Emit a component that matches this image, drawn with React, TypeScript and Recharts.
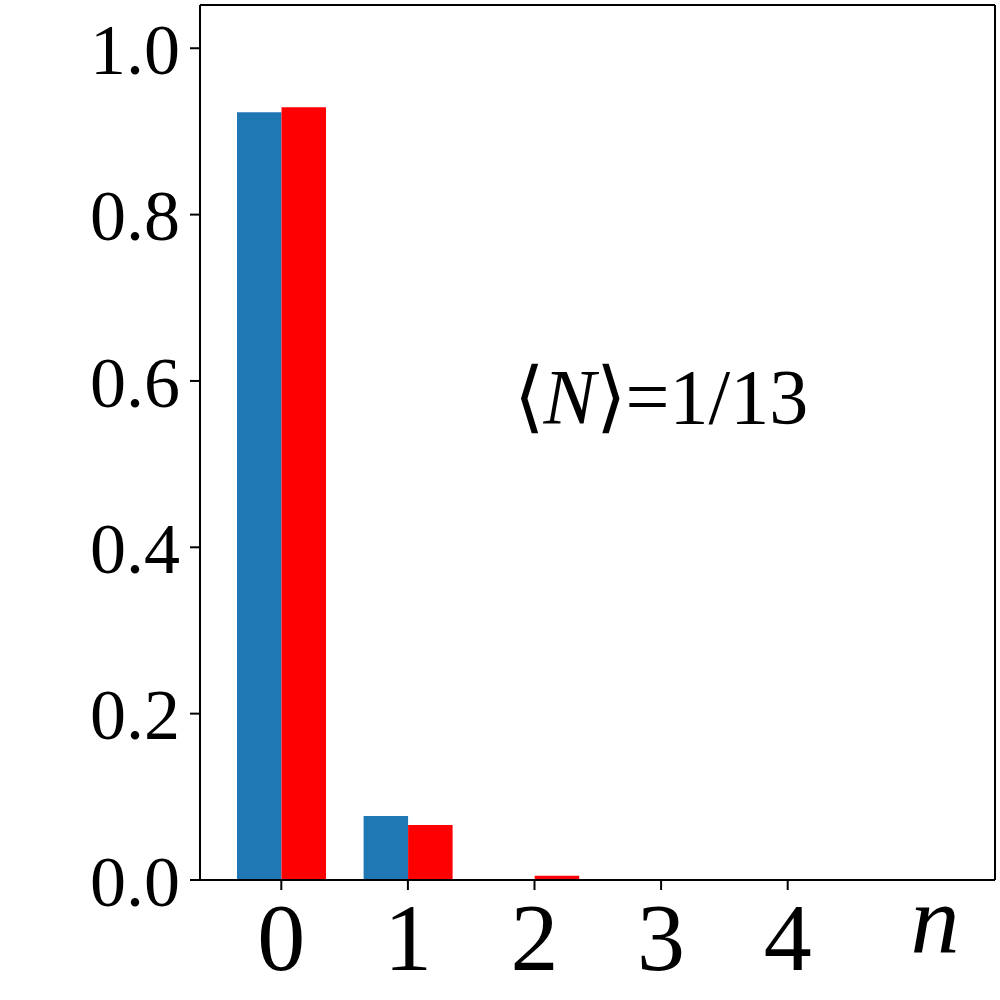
import { BarChart, Bar, XAxis, YAxis, ReferenceDot, Label } from 'recharts';

const photonNumbers = ['0', '1', '2', '3', '4'];
const blueValues = [0.923, 0.077, 0, 0, 0];
const redValues = [0.929, 0.066, 0.005, 0.0003, 0.00002];
const yTicks = [0, 0.2, 0.4, 0.6, 0.8, 1.0];

const FONT = 'Liberation Serif';

const data = photonNumbers.map((n, i) => ({
  n,
  blue: blueValues[i],
  red: redValues[i],
}));

const MeanLabel = (props: any) => {
  const { viewBox } = props;
  const x = viewBox.cx ?? viewBox.x;
  const y = viewBox.cy ?? viewBox.y;
  return (
    <text x={x - 21} y={y} fontFamily={FONT} fontSize={78} fill="#000">
      <tspan>⟨</tspan>
      <tspan fontStyle="italic">N</tspan>
      <tspan>⟩</tspan>
      <tspan>=1/13</tspan>
    </text>
  );
};

const NLabel = (props: any) => {
  const { viewBox } = props;
  return (
    <text
      x={viewBox.x + viewBox.width - 60}
      y={952}
      textAnchor="middle"
      fontFamily={FONT}
      fontStyle="italic"
      fontSize={98}
      fill="#000"
    >
      n
    </text>
  );
};

export default function App() {
  return (
    <div style={{ position: 'absolute', left: 0, top: 0, background: '#fff', fontFamily: FONT }}>
      <BarChart
        width={1000}
        height={1000}
        data={data}
        margin={{ top: 4, right: 4, bottom: 0, left: 0 }}
        barGap={0}
      >
        <XAxis
          dataKey="n"
          height={120}
          padding={{ left: 18, right: 144 }}
          axisLine={{ stroke: '#000', strokeWidth: 2 }}
          tickLine={{ stroke: '#000', strokeWidth: 2 }}
          tickSize={10}
          tickMargin={12}
          tick={{ fill: '#000', fontSize: 96, fontFamily: FONT }}
          interval={0}
        >
          <Label content={NLabel} />
        </XAxis>
        <XAxis
          xAxisId="top"
          dataKey="n"
          orientation="top"
          height={1}
          tick={false}
          tickLine={false}
          axisLine={{ stroke: '#000', strokeWidth: 2 }}
        />
        <YAxis
          width={200}
          domain={[0, 1.052]}
          ticks={yTicks}
          tickFormatter={(v: number) => v.toFixed(1)}
          axisLine={{ stroke: '#000', strokeWidth: 2 }}
          tickLine={{ stroke: '#000', strokeWidth: 2 }}
          tickSize={10}
          tickMargin={10}
          tick={{ fill: '#000', fontSize: 72, fontFamily: FONT }}
          allowDataOverflow
        />
        <YAxis
          yAxisId="right"
          orientation="right"
          width={1}
          domain={[0, 1.052]}
          tick={false}
          tickLine={false}
          axisLine={{ stroke: '#000', strokeWidth: 2 }}
        />
        <Bar dataKey="blue" fill="#1f77b4" barSize={44.5} isAnimationActive={false} />
        <Bar dataKey="red" fill="#ff0000" barSize={44.5} isAnimationActive={false} />
        <ReferenceDot x="2" y={0.55} r={0} fill="none" stroke="none" label={<MeanLabel />} />
      </BarChart>
    </div>
  );
}
